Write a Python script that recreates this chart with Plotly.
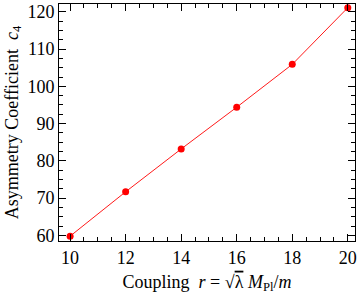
import plotly.graph_objects as go

coupling = [10, 12, 14, 16, 18, 20]
asym_c4 = [59.8, 71.7, 83.2, 94.4, 105.9, 121.1]
x_ticks = [10, 12, 14, 16, 18, 20]
y_ticks = [60, 70, 80, 90, 100, 110, 120]

font = "Liberation Serif, Times New Roman, serif"

fig = go.Figure(go.Scatter(
    x=coupling, y=asym_c4, mode="lines+markers",
    line=dict(color="#ff1a1a", width=1),
    marker=dict(color="#ff0000", size=7),
    cliponaxis=False,
))

axis_common = dict(
    showline=True, linecolor="black", linewidth=1, mirror="ticks",
    ticks="inside", ticklen=7, tickwidth=1, tickcolor="black",
    showgrid=False, zeroline=False,
    tickfont=dict(family=font, size=18, color="black"),
)

fig.update_xaxes(
    range=[9.6, 20.26], tickvals=x_ticks,
    minor=dict(ticks="inside", ticklen=4, dtick=0.5, tickcolor="black", showgrid=False),
    title=dict(text="Coupling  <i>r</i> = √<span style='text-decoration:overline'>λ</span> <i>M</i><sub>Pl</sub>/<i>m</i>",
               font=dict(family=font, size=18, color="black"), standoff=8),
    **axis_common,
)
fig.update_yaxes(
    range=[58.5, 122.1], tickvals=y_ticks,
    minor=dict(ticks="inside", ticklen=4, dtick=2.5, tickcolor="black", showgrid=False),
    title=dict(text="Asymmetry Coefficient  <i>c</i><sub>4</sub>",
               font=dict(family=font, size=18, color="black"), standoff=4),
    **axis_common,
)

fig.update_layout(
    width=360, height=298,
    margin=dict(l=59, r=5, t=2, b=57),
    paper_bgcolor="white", plot_bgcolor="white",
    showlegend=False,
)

fig.write_html("out.html", config={"displayModeBar": False},
               post_script="document.body.style.margin='0';document.body.style.overflow='hidden';")
